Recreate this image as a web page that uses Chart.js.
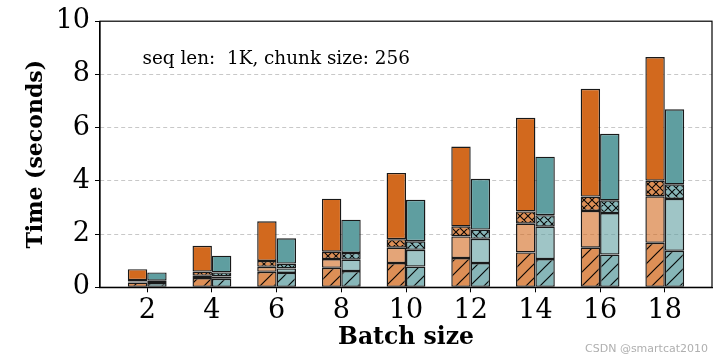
<!DOCTYPE html>
<html>
<head>
<meta charset="utf-8">
<script src="https://cdn.jsdelivr.net/npm/chart.js@4/dist/chart.umd.min.js"></script>
<style>
html,body{margin:0;padding:0;background:#fff;}
#wrap{width:724px;height:360px;position:relative;}
</style>
</head>
<body>
<div id="wrap"><canvas id="c" width="724" height="360"></canvas></div>
<script>
// ---- data ----
const batchSizes = [2, 4, 6, 8, 10, 12, 14, 16, 18];
const xTickValues = [2, 4, 6, 8, 10, 12, 14, 16, 18];
const yTickValues = [0, 2, 4, 6, 8, 10];
// orange group (segments, bottom to top)
const orangeSlash = [0.18, 0.35, 0.58, 0.73, 0.91, 1.10, 1.31, 1.49, 1.67];
const orangeLight = [0.04, 0.08, 0.19, 0.33, 0.58, 0.81, 1.08, 1.38, 1.75];
const orangeCross = [0.05, 0.16, 0.22, 0.28, 0.32, 0.38, 0.46, 0.54, 0.59];
const orangeSolid = [0.41, 0.97, 1.49, 1.99, 2.49, 3.00, 3.52, 4.05, 4.64];
// teal group (segments, bottom to top)
const tealSlash = [0.16, 0.32, 0.54, 0.61, 0.78, 0.91, 1.06, 1.23, 1.37];
const tealLight = [0.04, 0.09, 0.17, 0.43, 0.63, 0.91, 1.22, 1.56, 1.95];
const tealCross = [0.05, 0.15, 0.18, 0.25, 0.32, 0.35, 0.43, 0.48, 0.55];
const tealSolid = [0.31, 0.63, 0.95, 1.25, 1.56, 1.91, 2.20, 2.50, 2.82];
const annotationText = 'seq len:  1K, chunk size: 256';
const watermarkText = 'CSDN @smartcat2010';

// ---- styles ----
const ORANGE = [210, 105, 30];
const TEAL = [95, 158, 160];
function rgba(c, a) { return 'rgba(' + c[0] + ',' + c[1] + ',' + c[2] + ',' + a + ')'; }

function slashPattern(color) {
  const s = 14;
  const cv = document.createElement('canvas');
  cv.width = s; cv.height = s;
  const g = cv.getContext('2d');
  g.fillStyle = color; g.fillRect(0, 0, s, s);
  g.strokeStyle = 'rgba(0,0,0,0.95)'; g.lineWidth = 1.2;
  g.beginPath();
  g.moveTo(-1, s + 1); g.lineTo(s + 1, -1);
  g.moveTo(-2, 2); g.lineTo(2, -2);
  g.moveTo(s - 2, s + 2); g.lineTo(s + 2, s - 2);
  g.stroke();
  return document.getElementById('c').getContext('2d').createPattern(cv, 'repeat');
}
function crossPattern(color) {
  const s = 8;
  const cv = document.createElement('canvas');
  cv.width = s; cv.height = s;
  const g = cv.getContext('2d');
  g.fillStyle = color; g.fillRect(0, 0, s, s);
  g.strokeStyle = 'rgba(0,0,0,0.95)'; g.lineWidth = 1.1;
  g.beginPath();
  g.moveTo(-1, s + 1); g.lineTo(s + 1, -1);
  g.moveTo(-1, -1); g.lineTo(s + 1, s + 1);
  g.moveTo(-2, 2); g.lineTo(2, -2);
  g.moveTo(s - 2, s + 2); g.lineTo(s + 2, s - 2);
  g.moveTo(s - 2, -2); g.lineTo(s + 2, 2);
  g.moveTo(-2, s - 2); g.lineTo(2, s + 2);
  g.stroke();
  return document.getElementById('c').getContext('2d').createPattern(cv, 'repeat');
}

function pts(arr) { return batchSizes.map((b, i) => ({ x: b, y: arr[i] })); }
function ds(arr, stack, bg) {
  return {
    data: pts(arr), stack: stack, backgroundColor: bg,
    borderColor: 'rgba(0,0,0,0.9)', borderWidth: 1.4, borderSkipped: false,
    categoryPercentage: 0.6, barPercentage: 1.0
  };
}

const datasets = [
  ds(orangeSlash, 'a', slashPattern(rgba(ORANGE, 0.75))),
  ds(orangeLight, 'a', rgba(ORANGE, 0.6)),
  ds(orangeCross, 'a', crossPattern(rgba(ORANGE, 0.75))),
  ds(orangeSolid, 'a', rgba(ORANGE, 1)),
  ds(tealSlash, 'b', slashPattern(rgba(TEAL, 0.75))),
  ds(tealLight, 'b', rgba(TEAL, 0.6)),
  ds(tealCross, 'b', crossPattern(rgba(TEAL, 0.75))),
  ds(tealSolid, 'b', rgba(TEAL, 1))
];

const framePlugin = {
  id: 'frame',
  afterDraw(chart) {
    const { ctx, chartArea: a } = chart;
    ctx.save();
    ctx.strokeStyle = '#000'; ctx.lineWidth = 1.2;
    ctx.strokeRect(a.left, a.top, a.right - a.left, a.bottom - a.top);
    ctx.font = '18.4px "DejaVu Serif"';
    ctx.fillStyle = '#000';
    ctx.textBaseline = 'alphabetic'; ctx.textAlign = 'left';
    ctx.fillText(annotationText, 142.5, 64);
    ctx.font = '11px "DejaVu Sans"';
    ctx.fillStyle = 'rgba(175,175,175,1)';
    ctx.textAlign = 'right';
    ctx.fillText(watermarkText, 708, 352);
    ctx.restore();
  }
};

new Chart(document.getElementById('c'), {
  type: 'bar',
  data: { datasets: datasets },
  plugins: [framePlugin],
  options: {
    responsive: false, animation: false,
    layout: { padding: { top: 18, right: 12, bottom: 0, left: 0 } },
    plugins: { legend: { display: false }, tooltip: { enabled: false } },
    scales: {
      x: {
        type: 'linear', min: 0.54, max: 19.46, offset: false,
        afterBuildTicks(scale) { scale.ticks = xTickValues.map(v => ({ value: v })); },
        afterFit(scale) { scale.height = 72.7; },
        grid: { drawOnChartArea: false, tickLength: 5, tickColor: '#000', tickWidth: 1, offset: false },
        border: { color: '#000', width: 1.2 },
        ticks: { font: { family: 'DejaVu Serif', size: 27 }, color: '#000', padding: 2, maxRotation: 0, autoSkip: false },
        title: { display: true, text: 'Batch size', color: '#000',
          font: { family: 'DejaVu Serif', size: 23.5, weight: 'bold' }, padding: { top: 0, bottom: 8 } }
      },
      y: {
        type: 'linear', min: 0, max: 10, stacked: true,
        afterBuildTicks(scale) { scale.ticks = yTickValues.map(v => ({ value: v })); },
        afterFit(scale) { scale.width = 100; },
        grid: {
          color: (c) => (c.tick && (c.tick.value === 0 || c.tick.value === 10)) ? 'rgba(0,0,0,0)' : 'rgba(200,200,200,1)',
          lineWidth: 1, tickLength: 5, tickColor: '#000', tickWidth: 1, tickBorderDash: []
        },
        border: { color: '#000', width: 1.2, dash: [4, 3] },
        ticks: { font: { family: 'DejaVu Serif', size: 27 }, color: '#000', padding: 5 },
        title: { display: true, text: 'Time (seconds)', color: '#000',
          font: { family: 'DejaVu Serif', size: 22, weight: 'bold' }, padding: { top: 23, bottom: 0 } }
      }
    }
  }
});
</script>
</body>
</html>
